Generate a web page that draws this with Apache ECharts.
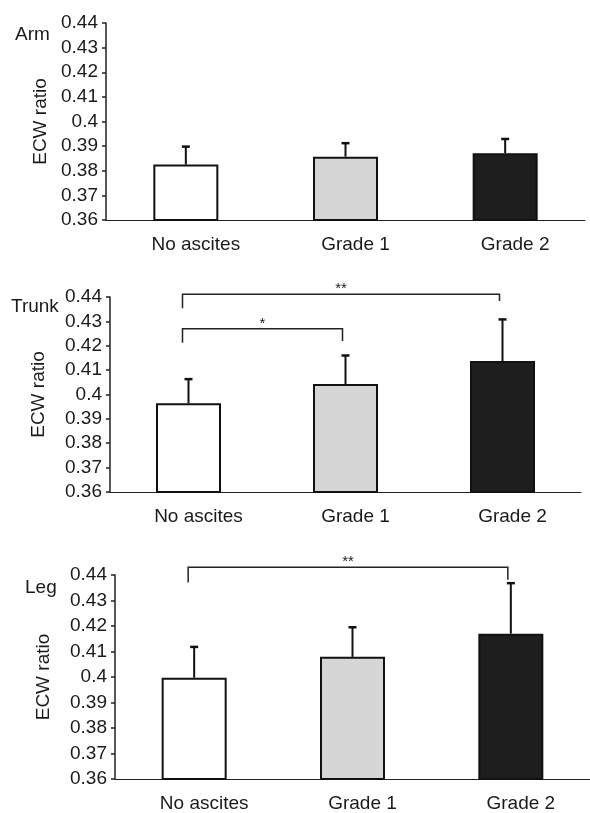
<!DOCTYPE html>
<html>
<head>
<meta charset="utf-8">
<script src="https://cdn.jsdelivr.net/npm/echarts@6/dist/echarts.min.js"></script>
<style>
html,body{margin:0;padding:0;background:#fff;}
#chart{width:590px;height:813px;}
</style>
</head>
<body>
<div id="chart"></div>
<script>
// ---- data ----
var categories = ['No ascites', 'Grade 1', 'Grade 2'];
var panelNames = ['Arm', 'Trunk', 'Leg'];
var yTicks = [0.36, 0.37, 0.38, 0.39, 0.4, 0.41, 0.42, 0.43, 0.44];

var armMean   = [0.3825, 0.3857, 0.3871];
var armUpper  = [0.3898, 0.3912, 0.3929];
var trunkMean = [0.3964, 0.4043, 0.4137];
var trunkUpper= [0.4063, 0.4160, 0.4308];
var legMean   = [0.3997, 0.4079, 0.4170];
var legUpper  = [0.4118, 0.4195, 0.4368];

// brackets: [fromIndex, toIndex, lineValue, leftEndValue, rightEndValue]
var trunkBrackets = [[0, 2, 0.4411, 0.4354, 0.4384], [0, 1, 0.4270, 0.4212, 0.4220]];
var trunkBracketLabels = ['**', '*'];
var legBrackets = [[0, 2, 0.4430, 0.4371, 0.4381]];
var legBracketLabels = ['**'];
var armBrackets = [];
var armBracketLabels = [];

// ---- styling ----
var barColors = ['#ffffff', '#d6d6d6', '#1e1e1e'];
var FONT = 'Liberation Sans, Arial, sans-serif';
var TXT = '#1a1a1a';

var grids = [
  {left: 106, top: 23, width: 479, height: 197},
  {left: 110, top: 297, width: 471, height: 195},
  {left: 115, top: 575, width: 486, height: 205}
];
var nameGaps = [56, 62, 62];
var titlePos = [{left: 15, top: 25}, {left: 11, top: 297}, {left: 25, top: 578}];
var means = [armMean, trunkMean, legMean];
var uppers = [armUpper, trunkUpper, legUpper];
var brackets = [armBrackets, trunkBrackets, legBrackets];
var bracketLabels = [armBracketLabels, trunkBracketLabels, legBracketLabels];

var option = {
  animation: false,
  backgroundColor: '#fff',
  title: [], grid: [], xAxis: [], yAxis: [], series: []
};

for (var p = 0; p < 3; p++) {
  option.title.push({
    text: panelNames[p], left: titlePos[p].left, top: titlePos[p].top, padding: 0,
    textStyle: {fontFamily: FONT, fontSize: 19, fontWeight: 'normal', color: TXT}
  });
  option.grid.push(grids[p]);
  option.xAxis.push({
    type: 'category', gridIndex: p, data: categories,
    axisLine: {lineStyle: {color: '#222', width: 1}},
    axisTick: {show: false},
    axisLabel: {fontFamily: FONT, fontSize: 19, color: TXT, margin: 15, padding: [0, 0, 0, 20]},
    splitLine: {show: false}
  });
  option.yAxis.push({
    type: 'value', gridIndex: p, min: yTicks[0], max: yTicks[yTicks.length - 1], interval: 0.01,
    name: 'ECW ratio', nameLocation: 'middle', nameRotate: 90, nameGap: nameGaps[p],
    nameTextStyle: {fontFamily: FONT, fontSize: 19, color: TXT},
    axisLine: {show: true, lineStyle: {color: '#222', width: 1.5}},
    axisTick: {show: true, length: 4, lineStyle: {color: '#222', width: 1.5}},
    axisLabel: {fontFamily: FONT, fontSize: 19, color: TXT, margin: 8,
      formatter: function (v) { return String(Math.round(v * 100) / 100); }},
    splitLine: {show: false}
  });
  option.series.push({
    type: 'bar', xAxisIndex: p, yAxisIndex: p, barWidth: 65,
    data: means[p].map(function (v, i) {
      return {value: v, itemStyle: {color: barColors[i], borderColor: '#111', borderWidth: 2}};
    })
  });
  (function (pp) {
    option.series.push({
      type: 'custom', xAxisIndex: pp, yAxisIndex: pp, clip: false, z: 5,
      data: means[pp].map(function (v, i) { return [i, v, uppers[pp][i]]; }),
      encode: {x: 0, y: [1, 2]},
      renderItem: function (params, api) {
        var a = api.coord([api.value(0), api.value(1)]);
        var b = api.coord([api.value(0), api.value(2)]);
        var st = {stroke: '#111', lineWidth: 2};
        return {type: 'group', children: [
          {type: 'line', shape: {x1: a[0], y1: a[1], x2: b[0], y2: b[1]}, style: st},
          {type: 'line', shape: {x1: b[0] - 4, y1: b[1], x2: b[0] + 4, y2: b[1]},
           style: {stroke: '#111', lineWidth: 2.5}}
        ]};
      }
    });
    if (brackets[pp].length) {
      option.series.push({
        type: 'custom', xAxisIndex: pp, yAxisIndex: pp, clip: false, z: 6,
        data: brackets[pp],
        encode: {x: [0, 1], y: [2, 3, 4]},
        renderItem: function (params, api) {
          var f = api.value(0), t = api.value(1);
          var L = api.coord([f, api.value(2)]);
          var R = api.coord([t, api.value(2)]);
          var LE = api.coord([f, api.value(3)]);
          var RE = api.coord([t, api.value(4)]);
          var lx = L[0] - 6, rx = R[0] - 3;
          return {type: 'group', children: [
            {type: 'polyline', shape: {points: [[lx, LE[1]], [lx, L[1]], [rx, R[1]], [rx, RE[1]]]},
             style: {stroke: '#222', lineWidth: 1.5, fill: null}},
            {type: 'text', x: (lx + rx) / 2, y: L[1] - 5,
             style: {text: bracketLabels[pp][params.dataIndex], fontFamily: FONT, fontSize: 15,
                     fill: TXT, align: 'center', verticalAlign: 'middle'}}
          ]};
        }
      });
    }
  })(p);
}

var chart = echarts.init(document.getElementById('chart'), null, {renderer: 'canvas'});
chart.setOption(option);
</script>
</body>
</html>
